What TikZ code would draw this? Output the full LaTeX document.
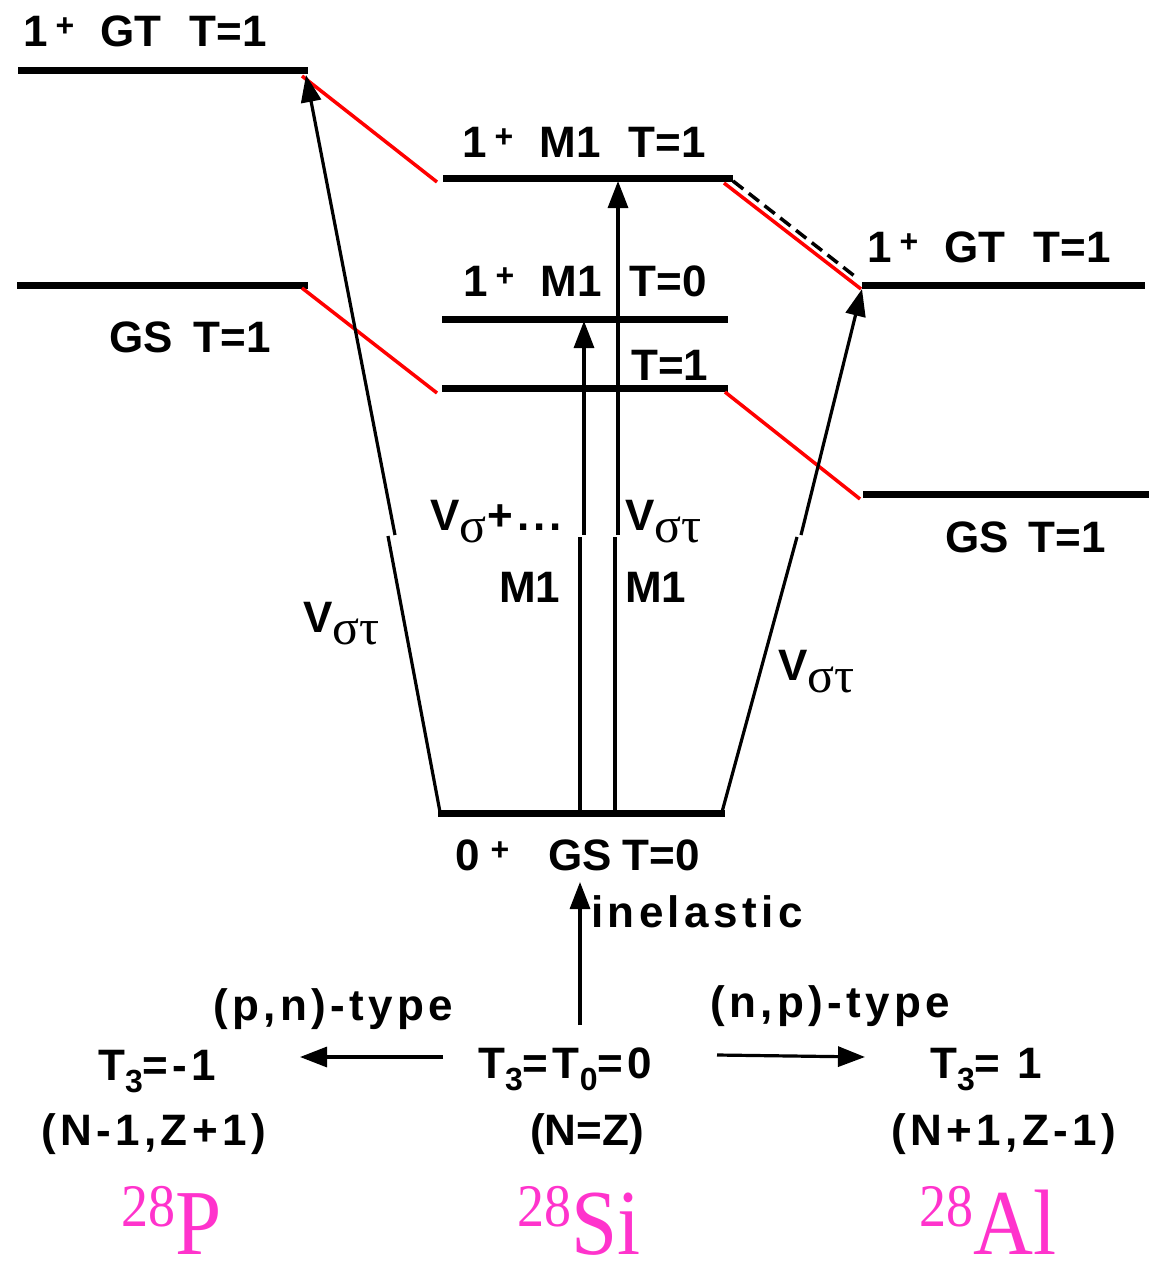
\documentclass[tikz,border=0pt]{standalone}
\usepackage{fontspec}
\setmainfont{Liberation Sans}
\newfontfamily\spsans{Liberation Sans}[LetterSpace=10]
\newfontfamily\rmserif{Liberation Serif}
\usetikzlibrary{arrows.meta}
\definecolor{nucl}{RGB}{255,51,204}
\newcommand\pl{\raisebox{10pt}{\fontsize{32}{32}\selectfont +}}
\newcommand\lvl[3]{#1\hspace{8pt}\pl\hspace{26pt}#2\hspace{28pt}#3}
\newcommand\sg[1]{\raisebox{-12pt}{\rmserif\mdseries\fontsize{50}{50}\selectfont #1}}
\newcommand\sbx[1]{\raisebox{-12pt}{\fontsize{32}{32}\selectfont #1}}
\newcommand\iso[2]{\scalebox{1}[1.12]{\raisebox{25pt}{\fontsize{54}{54}\selectfont #1}#2}}
\begin{document}
\begin{tikzpicture}[x=1pt,y=-1pt,
 lbl/.style={inner sep=0pt, anchor=base west, font=\bfseries\fontsize{44}{48}\selectfont},
 slbl/.style={lbl, font=\spsans\bfseries\fontsize{44}{48}\selectfont},
 nuc/.style={inner sep=0pt, anchor=base west, text=nucl, font=\rmserif\fontsize{83}{90}\selectfont},
 level/.style={line width=7pt},
 corr/.style={line width=3.5pt, red},
 dcorr/.style={line width=3.5pt, dash pattern=on 13pt off 7pt},
 seg/.style={line width=3.2pt},
 trans/.style={line width=3.2pt, -{Triangle[length=27pt,width=20pt]}},
]
\useasboundingbox (0,0) rectangle (1149,1264);

% level endpoints
\coordinate (lgtL) at (18,70);   \coordinate (lgtR) at (308,70);
\coordinate (lgsL) at (17,285);  \coordinate (lgsR) at (308,285);
\coordinate (m1L) at (443,178);  \coordinate (m1R) at (733,178);
\coordinate (m0L) at (442,319);  \coordinate (m0R) at (728,319);
\coordinate (mtL) at (442,388);  \coordinate (mtR) at (728,388);
\coordinate (rgtL) at (862,285); \coordinate (rgtR) at (1145,285);
\coordinate (rgsL) at (863,494); \coordinate (rgsR) at (1149,494);
\coordinate (g0L) at (438,813);  \coordinate (g0R) at (725,813);

\draw[level] (lgtL) -- (lgtR);
\draw[level] (lgsL) -- (lgsR);
\draw[level] (m1L) -- (m1R);
\draw[level] (m0L) -- (m0R);
\draw[level] (mtL) -- (mtR);
\draw[level] (rgtL) -- (rgtR);
\draw[level] (rgsL) -- (rgsR);
\draw[level] (g0L) -- (g0R);

% correspondence lines
\coordinate (ra1) at (302,76);  \coordinate (ra2) at (437,182);
\coordinate (rb1) at (302,288); \coordinate (rb2) at (437,393);
\coordinate (rc1) at (724,183); \coordinate (rc2) at (861,289);
\coordinate (rd1) at (725,392); \coordinate (rd2) at (860,499);
\coordinate (da1) at (733,181); \coordinate (da2) at (857,278);
\draw[corr] (ra1) -- (ra2);
\draw[corr] (rb1) -- (rb2);
\draw[corr] (rc1) -- (rc2);
\draw[corr] (rd1) -- (rd2);
\draw[dcorr] (da1) -- (da2);

% transition arrows (drawn in two pieces)
\coordinate (aLb) at (440,812); \coordinate (aLm1) at (388,536);
\coordinate (aLm2) at (395,535); \coordinate (aLt) at (306,75);
\coordinate (aAb) at (580,812); \coordinate (aAm1) at (580,537);
\coordinate (aAm2) at (584,535); \coordinate (aAt) at (584,321);
\coordinate (aBb) at (615,812); \coordinate (aBm1) at (615,537);
\coordinate (aBm2) at (618,535); \coordinate (aBt) at (618,181);
\coordinate (aRb) at (722,812); \coordinate (aRm1) at (797,537);
\coordinate (aRm2) at (801,535); \coordinate (aRt) at (862,289);
\draw[seg] (aLb) -- (aLm1);  \draw[trans] (aLm2) -- (aLt);
\draw[seg] (aAb) -- (aAm1);  \draw[trans] (aAm2) -- (aAt);
\draw[seg] (aBb) -- (aBm1);  \draw[trans] (aBm2) -- (aBt);
\draw[seg] (aRb) -- (aRm1);  \draw[trans] (aRm2) -- (aRt);

\coordinate (inB) at (580,1025); \coordinate (inT) at (580,882);
\coordinate (pnA) at (443,1057); \coordinate (pnB) at (300,1057);
\coordinate (npA) at (717,1055); \coordinate (npB) at (865,1057);
\draw[trans] (inB) -- (inT);
\draw[trans] (pnA) -- (pnB);
\draw[trans] (npA) -- (npB);

% level labels
\node[lbl] (tLGT) at (23,46) {\lvl{1}{GT}{T=1}};
\node[lbl] (tLGS) at (109,352) {GS\hspace{21pt}T=1};
\node[lbl] (tM1) at (462,157) {\lvl{1}{M1}{T=1}};
\node[lbl] (tM0) at (463,296) {\lvl{1}{M1}{T=0}};
\node[lbl] (tMT) at (631,380) {T=1};
\node[lbl] (tRGT) at (867,262) {\lvl{1}{GT}{T=1}};
\node[lbl] (tRGS) at (945,552) {GS\hspace{20pt}T=1};
\node[lbl] (tG0) at (455,870) {0\hspace{11pt}\pl\hspace{39pt}GS\hspace{11pt}T=0};

% transition labels
\node[lbl] (tVl) at (303,632) {V\sg{στ}};
\node[lbl] (tVs) at (430,530) {V\sg{σ}\hspace{1pt}+\hspace{4pt}.\hspace{4pt}.\hspace{4pt}.};
\node[lbl] (tVc) at (625,530) {V\sg{στ}};
\node[lbl] (tVr) at (778,680) {V\sg{στ}};
\node[lbl] (tM1l) at (499,602) {M1};
\node[lbl] (tM1r) at (625,602) {M1};
\node[slbl] (tinel) at (591,927) {inelastic};

% bottom
\node[slbl] (tpn) at (213,1020) {(p,n)-type};
\node[slbl] (tnp) at (710,1017) {(n,p)-type};
\node[slbl] (tT3l) at (98,1080) {T\sbx{3}=-1};
\node[slbl] (tT3c) at (478,1078) {T\sbx{3}=T\sbx{0}=0};
\node[slbl] (tT3r) at (930,1078) {T\sbx{3}= 1};
\node[slbl] (tNl) at (41,1145) {(N-1,Z+1)};
\node[lbl] (tNc) at (530,1145) {(N=Z)};
\node[slbl] (tNr) at (891,1145) {(N+1,Z-1)};
\node[nuc] (iP) at (121,1254) {\iso{28}{P}};
\node[nuc] (iSi) at (517,1254) {\iso{28}{Si}};
\node[nuc] (iAl) at (919,1254) {\iso{28}{Al}};
\end{tikzpicture}
\end{document}
